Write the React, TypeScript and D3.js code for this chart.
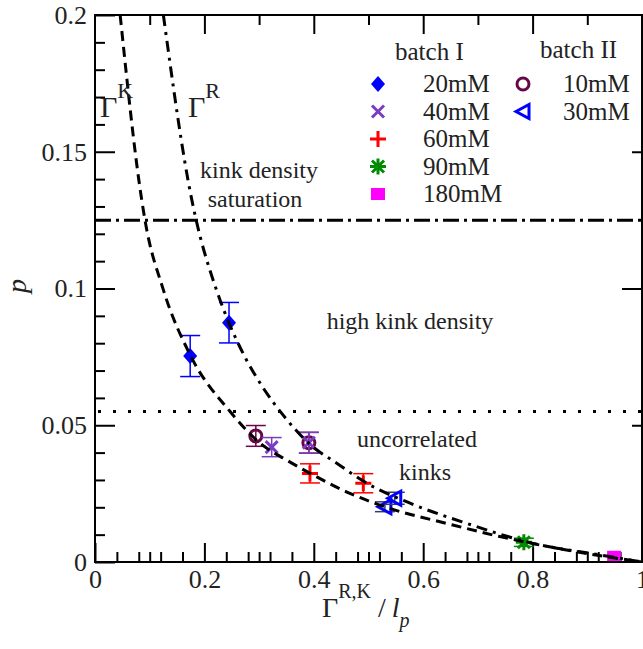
import React, { useEffect, useRef } from 'react';
import * as d3 from 'd3';

// tick values
const xTicksMajor = [0, 0.2, 0.4, 0.6, 0.8, 1];
const xTicksMinor = [0.04, 0.08, 0.1, 0.12, 0.16, 0.24, 0.28, 0.3, 0.32, 0.36, 0.44, 0.48, 0.5, 0.52, 0.56,
  0.64, 0.68, 0.7, 0.72, 0.76, 0.84, 0.88, 0.9, 0.92, 0.96];
const topTicksMajor = [0.2, 0.4, 0.6, 0.8];
const topTicksMinor = [0.1, 0.3, 0.5, 0.7, 0.9];
const yTicksMajor = [0, 0.05, 0.1, 0.15, 0.2];
const yTicksMinor = [0.01, 0.02, 0.03, 0.04, 0.06, 0.07, 0.08, 0.09, 0.11, 0.12, 0.13, 0.14, 0.16, 0.17, 0.18, 0.19];
const rightTicksMajor = [0.1];
const rightTicksMinor = [0.05, 0.15];

// measured points (x = Gamma/lp, y = p, err = half error bar)
const batch1_20mM = [{ x: 0.174, y: 0.0753, err: 0.0075 }, { x: 0.245, y: 0.0875, err: 0.0074 }];
const batch1_40mM = [{ x: 0.323, y: 0.042, err: 0.0035 }, { x: 0.391, y: 0.0436, err: 0.0038 }];
const batch1_60mM = [{ x: 0.393, y: 0.0324, err: 0.0035 }, { x: 0.4905, y: 0.0288, err: 0.0035 }];
const batch1_90mM = [{ x: 0.784, y: 0.0072, err: 0.0015 }];
const batch1_180mM = [{ x: 0.949, y: 0.0019, err: 0 }];
const batch2_10mM = [{ x: 0.294, y: 0.0461, err: 0.0038 }, { x: 0.391, y: 0.0436, err: 0.0038 }];
const batch2_30mM = [{ x: 0.53, y: 0.0202, err: 0.0018 }, { x: 0.548, y: 0.0233, err: 0.0022 }];

// curves
const gammaK = [[0.046, 0.2], [0.0854, 0.1324], [0.0914, 0.125], [0.125, 0.0995], [0.174, 0.0757], [0.247, 0.055],
  [0.302, 0.0434], [0.35, 0.0373], [0.399, 0.0318], [0.466, 0.0251], [0.539, 0.0196], [0.643, 0.0141],
  [0.74, 0.0093], [0.862, 0.0044], [1.0, 0]];
const gammaR = [[0.125, 0.2], [0.177, 0.1324], [0.185, 0.125], [0.222, 0.0995], [0.245, 0.0874], [0.274, 0.075],
  [0.308, 0.0635], [0.344, 0.0537], [0.393, 0.043], [0.442, 0.0361], [0.497, 0.0288], [0.576, 0.0215],
  [0.68, 0.0141], [0.801, 0.0068], [0.923, 0.0026], [1.0, 0]];

const saturationLevel = 0.125;
const uncorrelatedLevel = 0.055;

const FONT = '"Liberation Serif", "Times New Roman", serif';

const markers: any = {
  diamond: (g: any, c: string) => g.append('path').attr('d', 'M0,-8L7,0L0,8L-7,0Z').attr('fill', c),
  cross: (g: any, c: string) => g.append('path').attr('d', 'M-6,-6L6,6M-6,6L6,-6').attr('stroke', c).attr('stroke-width', 3),
  plus: (g: any, c: string) => g.append('path').attr('d', 'M-8,0L8,0M0,-8L0,8').attr('stroke', c).attr('stroke-width', 3),
  star: (g: any, c: string) => g.append('path').attr('d', 'M-8,0L8,0M0,-8L0,8M-6,-6L6,6M-6,6L6,-6').attr('stroke', c).attr('stroke-width', 3),
  square: (g: any, c: string) => g.append('rect').attr('x', -7).attr('y', -6).attr('width', 14).attr('height', 12).attr('fill', c),
  circle: (g: any, c: string) => g.append('circle').attr('r', 6).attr('fill', 'none').attr('stroke', c).attr('stroke-width', 3),
  triangle: (g: any, c: string) => g.append('path').attr('d', 'M-7,0L6,-7L6,7Z').attr('fill', 'none').attr('stroke', c).attr('stroke-width', 3),
};

const series = [
  { data: batch1_20mM, marker: 'diamond', color: '#0000ff', err: '#0000ff' },
  { data: batch2_10mM, marker: 'circle', color: '#670748', err: '#670748' },
  { data: batch1_40mM, marker: 'cross', color: '#7b3cc4', err: '#7b3cc4' },
  { data: batch1_60mM, marker: 'plus', color: '#ff0000', err: '#ff0000' },
  { data: batch2_30mM, marker: 'triangle', color: '#0000ff', err: '#3a3a6a' },
  { data: batch1_90mM, marker: 'star', color: '#008b00', err: '#008b00' },
  { data: batch1_180mM, marker: 'square', color: '#ff00ff', err: '#ff00ff' },
];

const legend1 = [
  { label: '20mM', marker: 'diamond', color: '#0000ff' },
  { label: '40mM', marker: 'cross', color: '#7b3cc4' },
  { label: '60mM', marker: 'plus', color: '#ff0000' },
  { label: '90mM', marker: 'star', color: '#008b00' },
  { label: '180mM', marker: 'square', color: '#ff00ff' },
];
const legend2 = [
  { label: '10mM', marker: 'circle', color: '#670748' },
  { label: '30mM', marker: 'triangle', color: '#0000ff' },
];

export default function App() {
  const ref = useRef<SVGSVGElement>(null);

  useEffect(() => {
    const svg = d3.select(ref.current);
    svg.selectAll('*').remove();

    const left = 95, right = 642, top = 15, bottom = 562;
    const x = d3.scaleLinear().domain([0, 1]).range([left, right]);
    const y = d3.scaleLinear().domain([0, 0.2]).range([bottom, top]);

    const fmt = (d: any) => String(d);

    // axes
    const styleAxis = (g: any) => {
      g.select('.domain').remove();
      g.selectAll('line').attr('stroke', '#000').attr('stroke-width', 2);
      g.selectAll('text').attr('font-family', FONT).attr('font-size', 26).attr('fill', '#222');
    };
    svg.append('g').attr('transform', `translate(0,${bottom})`)
      .call(d3.axisBottom(x).tickValues(xTicksMajor).tickSize(-19).tickPadding(8).tickFormat(fmt)).call(styleAxis);
    svg.append('g').attr('transform', `translate(0,${bottom})`)
      .call(d3.axisBottom(x).tickValues(xTicksMinor).tickSize(-10).tickFormat(() => '')).call(styleAxis);
    svg.append('g').attr('transform', `translate(0,${top})`)
      .call(d3.axisTop(x).tickValues(topTicksMajor).tickSize(-19).tickFormat(() => '')).call(styleAxis);
    svg.append('g').attr('transform', `translate(0,${top})`)
      .call(d3.axisTop(x).tickValues(topTicksMinor).tickSize(-10).tickFormat(() => '')).call(styleAxis);
    svg.append('g').attr('transform', `translate(${left},0)`)
      .call(d3.axisLeft(y).tickValues(yTicksMajor).tickSize(-20).tickPadding(8).tickFormat(fmt)).call(styleAxis);
    svg.append('g').attr('transform', `translate(${left},0)`)
      .call(d3.axisLeft(y).tickValues(yTicksMinor).tickSize(-10).tickFormat(() => '')).call(styleAxis);
    svg.append('g').attr('transform', `translate(${right},0)`)
      .call(d3.axisRight(y).tickValues(rightTicksMajor).tickSize(-20).tickFormat(() => '')).call(styleAxis);
    svg.append('g').attr('transform', `translate(${right},0)`)
      .call(d3.axisRight(y).tickValues(rightTicksMinor).tickSize(-10).tickFormat(() => '')).call(styleAxis);

    // data points with error bars
    series.forEach((s) => {
      s.data.forEach((d) => {
        const px = x(d.x), py = y(d.y);
        if (d.err > 0) {
          const e = svg.append('g').attr('stroke', s.err).attr('stroke-width', 1.5);
          e.append('line').attr('x1', px).attr('x2', px).attr('y1', y(d.y - d.err)).attr('y2', y(d.y + d.err));
          e.append('line').attr('x1', px - 10).attr('x2', px + 10).attr('y1', y(d.y - d.err)).attr('y2', y(d.y - d.err));
          e.append('line').attr('x1', px - 10).attr('x2', px + 10).attr('y1', y(d.y + d.err)).attr('y2', y(d.y + d.err));
        }
        const g = svg.append('g').attr('transform', `translate(${px},${py})`);
        markers[s.marker](g, s.color);
      });
    });

    // curves and levels
    svg.append('clipPath').attr('id', 'plotclip').append('rect')
      .attr('x', left).attr('y', top).attr('width', right - left).attr('height', bottom - top);
    const line = d3.line<number[]>().x((d) => x(d[0])).y((d) => y(d[1])).curve(d3.curveMonotoneX);
    const curves = svg.append('g').attr('clip-path', 'url(#plotclip)').attr('fill', 'none').attr('stroke', '#000');
    curves.append('path').attr('d', line(gammaK)).attr('stroke-width', 3).attr('stroke-dasharray', '10 6');
    curves.append('path').attr('d', line(gammaR)).attr('stroke-width', 3).attr('stroke-dasharray', '11 6 3 6');
    curves.append('line').attr('x1', left).attr('x2', right).attr('y1', y(saturationLevel)).attr('y2', y(saturationLevel))
      .attr('stroke-width', 3).attr('stroke-dasharray', '16 5 3 5');
    curves.append('line').attr('x1', left + 3).attr('x2', right).attr('y1', y(uncorrelatedLevel)).attr('y2', y(uncorrelatedLevel))
      .attr('stroke-width', 3).attr('stroke-dasharray', '3 12');

    // frame
    svg.append('rect').attr('x', left).attr('y', top).attr('width', right - left).attr('height', bottom - top)
      .attr('fill', 'none').attr('stroke', '#000').attr('stroke-width', 2);

    // text annotations
    const txt = svg.append('g').attr('font-family', FONT).attr('fill', '#222');
    const gk = txt.append('text').attr('x', 100).attr('y', 117).attr('font-size', 30);
    gk.append('tspan').text('Γ');
    gk.append('tspan').attr('dy', -19).attr('font-size', 22).text('K');
    const gr = txt.append('text').attr('x', 188).attr('y', 117).attr('font-size', 30);
    gr.append('tspan').text('Γ');
    gr.append('tspan').attr('dy', -19).attr('font-size', 22).text('R');

    txt.append('text').attr('x', 259).attr('y', 178).attr('font-size', 24).attr('text-anchor', 'middle').text('kink density');
    txt.append('text').attr('x', 255).attr('y', 207).attr('font-size', 24).attr('text-anchor', 'middle').text('saturation');
    txt.append('text').attr('x', 410).attr('y', 329).attr('font-size', 24).attr('text-anchor', 'middle').text('high kink density');
    txt.append('text').attr('x', 417).attr('y', 447).attr('font-size', 24).attr('text-anchor', 'middle').text('uncorrelated');
    txt.append('text').attr('x', 425).attr('y', 480).attr('font-size', 24).attr('text-anchor', 'middle').text('kinks');

    // legend
    txt.append('text').attr('x', 395).attr('y', 60).attr('font-size', 25).text('batch I');
    txt.append('text').attr('x', 540).attr('y', 58).attr('font-size', 25).text('batch II');
    legend1.forEach((l, i) => {
      const cy = 84 + i * 27.5;
      markers[l.marker](svg.append('g').attr('transform', `translate(378,${cy})`), l.color);
      txt.append('text').attr('x', 423).attr('y', cy + 8).attr('font-size', 25).text(l.label);
    });
    legend2.forEach((l, i) => {
      const cy = 84 + i * 27.5;
      markers[l.marker](svg.append('g').attr('transform', `translate(523,${cy})`), l.color);
      txt.append('text').attr('x', 563).attr('y', cy + 8).attr('font-size', 25).text(l.label);
    });

    // axis titles
    const xt = txt.append('text').attr('x', 322).attr('y', 617).attr('font-size', 28);
    xt.append('tspan').text('Γ');
    xt.append('tspan').attr('dy', -19).attr('font-size', 20).text('R,K');
    xt.append('tspan').attr('dy', 19).text(' /');
    xt.append('tspan').attr('dx', 6).attr('font-style', 'italic').text('l');
    xt.append('tspan').attr('dy', 10).attr('font-size', 20).attr('font-style', 'italic').text('p');
    txt.append('text').attr('transform', 'translate(26,286) rotate(-90)').attr('text-anchor', 'middle')
      .attr('font-size', 28).attr('font-style', 'italic').text('p');
  }, []);

  return (
    <svg ref={ref} width={643} height={649} style={{ position: 'absolute', left: 0, top: 0, background: '#fff' }} />
  );
}
